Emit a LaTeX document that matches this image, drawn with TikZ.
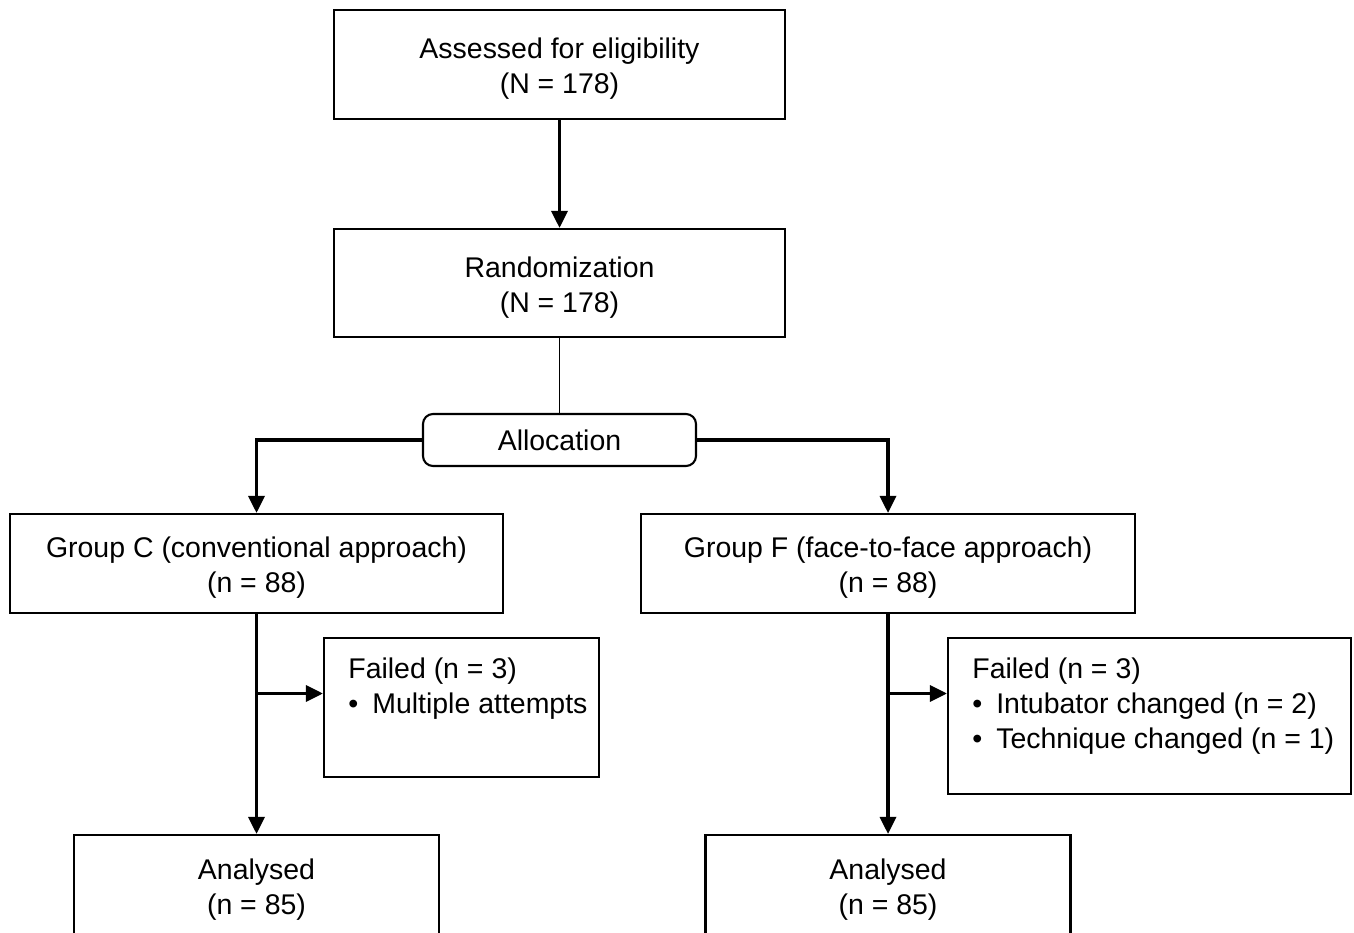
\documentclass[tikz,border=0pt]{standalone}
\usepackage{fontspec}
\setmainfont{Liberation Sans}
\usetikzlibrary{arrows.meta}

\newcommand{\flowbul}{•\hspace{0.28cm}}
\newcommand{\flowtop}{\rule{0pt}{0.58cm}}
\tikzset{flowbox/.style={draw,line width=1.2pt,minimum width=#1,inner sep=0pt,align=center,font=\fontsize{16.2pt}{19.9pt}\selectfont}}
\tikzset{flowtext/.style={anchor=base west,inner sep=0pt,align=left,font=\fontsize{16.2pt}{19.9pt}\selectfont}}
\tikzset{flowarr/.style={-{Triangle[length=0.34cm,width=0.32cm]},line width=1.9pt}}

\begin{document}
\begin{tikzpicture}
        \useasboundingbox (0,0) rectangle (27.08,-18.66);
        \clip (0,0) rectangle (27.08,-18.66);
        % top of the chart
        \node[flowbox=9.02cm,minimum height=2.18cm] (assess) at (11.19,-1.29) {\flowtop Assessed for eligibility\\(N = 178)};
        \node[flowbox=9.02cm,minimum height=2.16cm] (rand) at (11.19,-5.66) {\flowtop Randomization\\(N = 178)};
        \node[flowbox=5.46cm,minimum height=1.04cm,rounded corners=0.2cm] (alloc) at (11.19,-8.80) {Allocation};
        % the two groups
        \node[flowbox=9.86cm,minimum height=1.98cm] (grpC) at (5.13,-11.27) {\flowtop Group C (conventional approach)\\(n = 88)};
        \node[flowbox=9.88cm,minimum height=1.98cm] (grpF) at (17.76,-11.27) {\flowtop Group F (face-to-face approach)\\(n = 88)};
        % failures
        \node[flowbox=5.50cm,minimum height=2.78cm] (failC) at (9.23,-14.15) {};
        \node[flowtext] (failCtxt) at (6.96,-14.27) {Failed (n = 3)\\\flowbul Multiple attempts};
        \node[flowbox=8.06cm,minimum height=3.12cm] (failF) at (22.99,-14.32) {};
        \node[flowtext] (failFtxt) at (19.44,-14.97) {Failed (n = 3)\\\flowbul Intubator changed (n = 2)\\\flowbul Technique changed (n = 1)};
        % analysed
        \node[flowbox=7.30cm,minimum height=2.02cm] (anaC) at (5.13,-17.71) {\flowtop Analysed\\(n = 85)};
        \node[flowbox=7.30cm,minimum height=2.02cm] (anaF) at (17.76,-17.71) {\flowtop Analysed\\(n = 85)};

        % connectors
        \draw[flowarr] (assess) -- (rand);
        \draw[line width=0.7pt] (rand) -- (alloc);
        \draw[flowarr] (alloc.west) -| (grpC.north);
        \draw[flowarr] (alloc.east) -| (grpF.north);
        \draw[flowarr] (grpC) -- (anaC);
        \draw[flowarr] (grpF) -- (anaF);
        \coordinate (brC) at (5.13,-13.87);
        \coordinate (brF) at (17.76,-13.87);
        \draw[flowarr] (brC) -- (brC -| failC.west);
        \draw[flowarr] (brF) -- (brF -| failF.west);
    \end{tikzpicture}
\end{document}
